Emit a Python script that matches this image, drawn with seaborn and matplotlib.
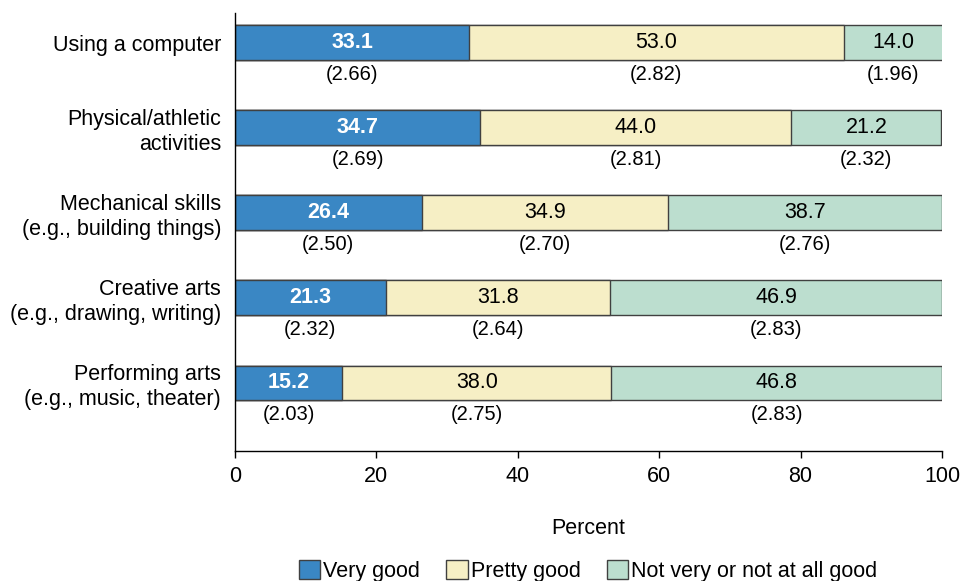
import numpy as np
import pandas as pd
import matplotlib
matplotlib.use("Agg")
import matplotlib.pyplot as plt
from matplotlib.patches import Patch
import seaborn as sns

categories = ["Using a computer", "Physical/athletic\nactivities",
              "Mechanical skills\n(e.g., building things)",
              "Creative arts\n(e.g., drawing, writing)",
              "Performing arts\n(e.g., music, theater)"]
very_good = [33.1, 34.7, 26.4, 21.3, 15.2]
pretty_good = [53.0, 44.0, 34.9, 31.8, 38.0]
not_good = [14.0, 21.2, 38.7, 46.9, 46.8]
se_very = ["(2.66)", "(2.69)", "(2.50)", "(2.32)", "(2.03)"]
se_pretty = ["(2.82)", "(2.81)", "(2.70)", "(2.64)", "(2.75)"]
se_not = ["(1.96)", "(2.32)", "(2.76)", "(2.83)", "(2.83)"]
series = ["Very good", "Pretty good", "Not very or not at all good"]
colors = ["#3a87c4", "#f6efc5", "#bcdecf"]

sns.set_style("white")
plt.rcParams["font.family"] = ["Liberation Sans", "DejaVu Sans"]
plt.rcParams["text.color"] = "black"
plt.rcParams["axes.labelcolor"] = "black"
plt.rcParams["xtick.color"] = "black"
plt.rcParams["ytick.color"] = "black"

df = pd.DataFrame({"cat": categories, "v": very_good, "p": pretty_good, "n": not_good})
df["c1"] = df["v"]
df["c2"] = df["v"] + df["p"]
df["c3"] = df["c2"] + df["n"]

fig = plt.figure(figsize=(9.6, 5.81), dpi=100)
ax = fig.add_axes([235 / 960, 130 / 581, 707 / 960, 438 / 581])

edge = "#404040"
for col, color in zip(["c3", "c2", "c1"], colors[::-1]):
    sns.barplot(data=df, x=col, y="cat", order=categories, color=color,
                width=0.41, edgecolor=edge, linewidth=1, saturation=1, ax=ax)

fs = 15.5
for i in range(len(categories)):
    starts = [0, df["c1"][i], df["c2"][i]]
    vals = [very_good[i], pretty_good[i], not_good[i]]
    ses = [se_very[i], se_pretty[i], se_not[i]]
    for k in range(3):
        mid = starts[k] + vals[k] / 2
        if k == 0:
            ax.text(mid, i, f"{vals[k]:.1f}", ha="center", va="center",
                    color="white", fontweight="bold", fontsize=fs)
        else:
            ax.text(mid, i, f"{vals[k]:.1f}", ha="center", va="center",
                    color="black", fontsize=fs)
        ax.text(mid, i + 0.37, ses[k], ha="center", va="center",
                color="black", fontsize=fs - 1)

ax.set_xlim(0, 100)
ax.set_ylim(4.8, -0.35)
ax.set_xticks([0, 20, 40, 60, 80, 100])
ax.tick_params(axis="x", direction="out", length=5, width=1, labelsize=fs, pad=6, bottom=True)
ax.tick_params(axis="y", length=0, labelsize=fs, pad=10)
ax.set_xlabel("Percent", fontsize=fs, labelpad=22)
ax.set_ylabel("")
for s in ["top", "right"]:
    ax.spines[s].set_visible(False)
for s in ["left", "bottom"]:
    ax.spines[s].set_color("black")
    ax.spines[s].set_linewidth(1)

handles = [Patch(facecolor=c, edgecolor=edge, linewidth=1) for c in colors]
fig.legend(handles, series, loc="center", bbox_to_anchor=(588 / 960, 10 / 581),
           ncol=3, frameon=False, fontsize=fs, handlelength=1.0, handleheight=1.0,
           handletextpad=0.15, columnspacing=1.2, borderaxespad=0, borderpad=0)

fig.savefig("out.png", dpi=100)
